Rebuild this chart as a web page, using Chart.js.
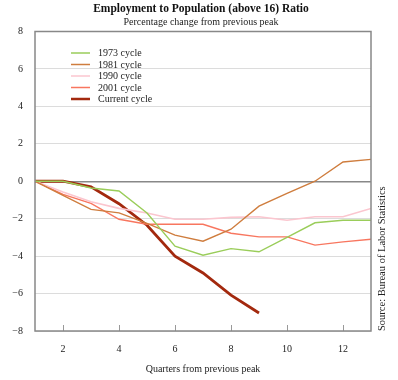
<!DOCTYPE html>
<html>
<head>
<meta charset="utf-8">
<script src="https://cdn.jsdelivr.net/npm/chart.js@4"></script>
<style>
  html, body { margin: 0; padding: 0; background: #fff; }
  #wrap { width: 398px; height: 380px; }
</style>
</head>
<body>
<div id="wrap"><canvas id="empChart"></canvas></div>
<script>
const quarters = [1, 2, 3, 4, 5, 6, 7, 8, 9, 10, 11, 12, 13];
const xTicks = [2, 4, 6, 8, 10, 12];

const cycle1973 = [0, 0, -0.36, -0.52, -1.7, -3.47, -3.95, -3.6, -3.77, -3.0, -2.22, -2.08, -2.08];
const cycle1981 = [0, -0.75, -1.5, -1.69, -2.25, -2.88, -3.2, -2.56, -1.33, -0.65, 0.0, 1.03, 1.17];
const cycle1990 = [0, -0.57, -1.1, -1.45, -1.7, -2.03, -2.03, -1.93, -1.9, -2.08, -1.9, -1.9, -1.45];
const cycle2001 = [0, -0.7, -1.18, -2.03, -2.3, -2.3, -2.3, -2.78, -2.97, -2.97, -3.41, -3.24, -3.1];
const cycleCurrent = [0, 0, -0.3, -1.2, -2.35, -4.0, -4.9, -6.08, -7.04];

const serif = '"Liberation Serif", "DejaVu Serif", serif';

// legend, frame, inside x ticks and source note
const extras = {
  id: 'extras',
  afterDatasetsDraw(chart) {
    const { ctx, chartArea: a, scales } = chart;
    ctx.save();
    // inside tick marks on x axis
    ctx.strokeStyle = '#999';
    ctx.lineWidth = 1;
    scales.x.ticks.forEach(t => {
      const px = Math.round(scales.x.getPixelForValue(t.value)) + 0.5;
      ctx.beginPath();
      ctx.moveTo(px, a.bottom);
      ctx.lineTo(px, a.bottom - 6);
      ctx.stroke();
    });
    // frame
    ctx.strokeStyle = '#888';
    ctx.lineWidth = 1.5;
    ctx.strokeRect(a.left, a.top, a.right - a.left, a.bottom - a.top);

    // legend
    ctx.font = '10px ' + serif;
    ctx.textBaseline = 'middle';
    ctx.textAlign = 'left';
    chart.data.datasets.forEach((ds, i) => {
      const y = a.top + 21.5 + i * 11.5;
      const x = a.left + 36;
      ctx.strokeStyle = ds.borderColor;
      ctx.lineWidth = ds.borderWidth > 2 ? 2.5 : 1.5;
      ctx.beginPath();
      ctx.moveTo(x, y);
      ctx.lineTo(x + 19, y);
      ctx.stroke();
      ctx.fillStyle = '#222';
      ctx.fillText(ds.label, x + 27, y + 0.5);
    });

    // source note
    ctx.translate(a.right + 11, a.bottom);
    ctx.rotate(-Math.PI / 2);
    ctx.font = '10.5px ' + serif;
    ctx.fillStyle = '#222';
    ctx.textBaseline = 'middle';
    ctx.fillText('Source: Bureau of Labor Statistics', 0, 0);
    ctx.restore();
  }
};

new Chart(document.getElementById('empChart'), {
  type: 'line',
  data: {
    labels: quarters,
    datasets: [
      { label: '1973 cycle', data: cycle1973, borderColor: '#9acd5a', borderWidth: 1.4 },
      { label: '1981 cycle', data: cycle1981, borderColor: '#cf7d3e', borderWidth: 1.4 },
      { label: '1990 cycle', data: cycle1990, borderColor: '#fbc6cf', borderWidth: 1.6 },
      { label: '2001 cycle', data: cycle2001, borderColor: '#f8765f', borderWidth: 1.4 },
      { label: 'Current cycle', data: cycleCurrent, borderColor: '#a3290e', borderWidth: 2.8 }
    ]
  },
  options: {
    responsive: true,
    maintainAspectRatio: false,
    animation: false,
    layout: { padding: { left: 4, right: 0, top: 0, bottom: 0 } },
    elements: {
      point: { radius: 0 },
      line: { tension: 0, fill: false }
    },
    plugins: {
      legend: { display: false },
      tooltip: { enabled: false },
      title: {
        display: true,
        text: 'Employment to Population (above 16) Ratio',
        color: '#111',
        font: { family: serif, size: 11.5, weight: 'bold', lineHeight: 1 },
        padding: { top: 3, bottom: 0 }
      },
      subtitle: {
        display: true,
        text: 'Percentage change from previous peak',
        color: '#222',
        font: { family: serif, size: 10, lineHeight: 1 },
        padding: { top: 3, bottom: 4 }
      }
    },
    scales: {
      x: {
        type: 'linear',
        min: 1,
        max: 13,
        afterBuildTicks: s => { s.ticks = xTicks.map(v => ({ value: v })); },
        afterFit: s => { s.height = 49; },
        grid: { drawOnChartArea: false, drawTicks: false },
        border: { display: false },
        ticks: { color: '#222', font: { family: serif, size: 10 }, padding: 12 },
        title: {
          display: true,
          text: 'Quarters from previous peak',
          color: '#222',
          font: { family: serif, size: 10, lineHeight: 1.2 },
          padding: { top: 0, bottom: 5 }
        }
      },
      y: {
        min: -8,
        max: 8,
        afterFit: s => { s.width = 31; },
        ticks: {
          stepSize: 2,
          color: '#222',
          padding: 12,
          font: { family: serif, size: 10 },
          callback: v => String(v).replace('-', '\u2212')
        },
        grid: {
          drawTicks: false,
          color: c => c.tick && c.tick.value === 0 ? '#888' : '#dcdcdc',
          lineWidth: c => c.tick && c.tick.value === 0 ? 1.5 : 1
        },
        border: { display: false }
      },
      // empty axis that only reserves room for the source note
      note: {
        position: 'right',
        axis: 'y',
        display: true,
        afterFit: s => { s.width = 27; },
        grid: { display: false },
        border: { display: false },
        ticks: { display: false }
      }
    }
  },
  plugins: [extras]
});
</script>
</body>
</html>
